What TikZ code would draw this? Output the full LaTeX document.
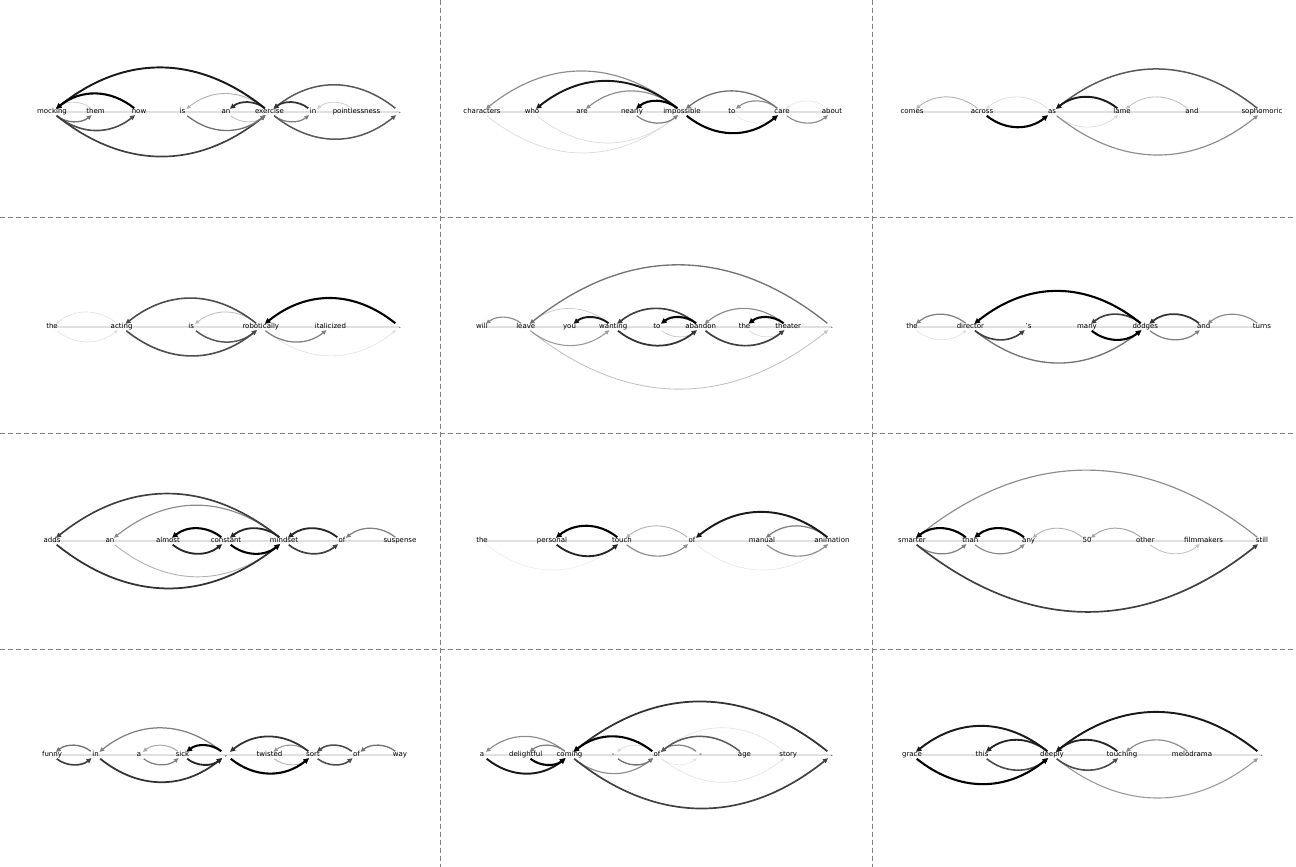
\documentclass[tikz,border=0pt]{standalone}
\usepackage{fontspec}
\setmainfont{DejaVu Sans}
\usepackage{tikz}
\usetikzlibrary{arrows.meta,backgrounds}

\begin{document}
\begin{tikzpicture}[x=1pt, y=-1pt,
    word/.style={font=\fontsize{7}{8}\selectfont, inner sep=1pt, text height=5.2pt, text depth=1.4pt},
    base/.style={draw=black!12, line width=1.2pt},
    att/.style={draw=black!#1, line width={0.4pt+0.017pt*#1},
      -{Triangle[length=3pt 1.3, width=2.6pt 1.3]},
      bend right=38.66, looseness=1.09, shorten <=6pt, shorten >=5pt},
    sep/.style={draw=black!50, dash pattern=on 5pt off 3pt, line width=0.8pt}]
    \useasboundingbox (0,0) rectangle (1296,867);

    % Panel separators
    \draw[sep] (440,0) -- (440,867);
    \draw[sep] (872,0) -- (872,867);
    \draw[sep] (0,217) -- (1296,217);
    \draw[sep] (0,433) -- (1296,433);
    \draw[sep] (0,649) -- (1296,649);

    % Row 1
    \foreach \w [count=\i] in {mocking,them,now,is,an,exercise,in,pointlessness,.}
        \node[word] (a\i) at ({52+(\i-1)*43.5},112) {\w};
    \foreach \src/\dst/\wt in {2/1/20, 6/4/30, 8/7/20, 5/6/25, 1/2/55, 1/3/70, 1/6/75, 4/6/55,
        6/7/50, 6/9/65, 9/6/65, 6/5/80, 7/6/80, 6/1/90, 3/1/100}
        \draw[att=\wt] (a\src.center) to (a\dst.center);

    \foreach \w [count=\i] in {characters,who,are,nearly,impossible,to,care,about}
        \node[word] (b\i) at ({482+(\i-1)*50},112) {\w};
    \foreach \src/\dst/\wt in {1/5/15, 2/5/15, 6/7/10, 8/7/10, 5/1/45, 5/3/45, 7/6/45, 7/8/45,
        4/5/50, 7/5/55, 5/2/90, 5/4/100, 5/7/100}
        \draw[att=\wt] (b\src.center) to (b\dst.center);

    \foreach \w [count=\i] in {comes,across,as,lame,and,sophomoric}
        \node[word] (c\i) at ({912+(\i-1)*70},112) {\w};
    \foreach \src/\dst/\wt in {3/2/15, 3/4/15, 5/4/25, 2/1/30, 3/6/45, 6/3/65, 4/3/90, 2/3/100}
        \draw[att=\wt] (c\src.center) to (c\dst.center);

    % Row 2
    \foreach \w [count=\i] in {the,acting,is,robotically,italicized,.}
        \node[word] (d\i) at ({52+(\i-1)*69.6},327) {\w};
    \foreach \src/\dst/\wt in {2/1/12, 1/2/12, 4/6/12, 4/3/25, 4/5/50, 3/4/65, 2/4/70, 4/2/70, 6/4/100}
        \draw[att=\wt] (d\src.center) to (d\dst.center);

    \foreach \w [count=\i] in {will,leave,you,wanting,to,abandon,the,theater,.}
        \node[word] (e\i) at ({482+(\i-1)*43.75},327) {\w};
    \foreach \src/\dst/\wt in {7/8/15, 4/2/20, 5/6/20, 2/9/25, 2/4/40, 2/1/45, 8/6/45, 9/2/55,
        6/4/75, 6/8/75, 4/6/80, 4/3/90, 6/5/100, 8/7/100}
        \draw[att=\wt] (e\src.center) to (e\dst.center);

    \foreach \w [count=\i] in {the,director,'s,many,dodges,and,turns}
        \node[word] (f\i) at ({912+(\i-1)*58.33},327) {\w};
    \foreach \src/\dst/\wt in {1/2/12, 7/6/45, 2/1/50, 5/6/50, 2/5/55, 5/4/75, 2/3/75, 6/5/80,
        5/2/100, 4/5/100}
        \draw[att=\wt] (f\src.center) to (f\dst.center);

    % Row 3
    \foreach \w [count=\i] in {adds,an,almost,constant,mindset,of,suspense}
        \node[word] (g\i) at ({52+(\i-1)*58},541) {\w};
    \foreach \src/\dst/\wt in {2/5/30, 5/2/45, 7/6/50, 5/1/75, 5/6/75, 1/5/80, 3/4/85, 5/4/85,
        6/5/85, 4/3/100, 4/5/100}
        \draw[att=\wt] (g\src.center) to (g\dst.center);

    \foreach \w [count=\i] in {the,personal,touch,of,manual,animation}
        \node[word] (h\i) at ({482+(\i-1)*70},541) {\w};
    \foreach \src/\dst/\wt in {1/3/8, 4/6/10, 4/3/30, 3/4/45, 5/6/45, 6/5/50, 2/3/85, 6/4/90, 3/2/100}
        \draw[att=\wt] (h\src.center) to (h\dst.center);

    \foreach \w [count=\i] in {smarter,than,any,50,other,filmmakers,still}
        \node[word] (i\i) at ({912+(\i-1)*58.33},541) {\w};
    \foreach \src/\dst/\wt in {5/6/25, 4/3/30, 5/4/35, 7/1/45, 2/3/45, 1/2/50, 1/7/75, 2/1/100, 3/2/100}
        \draw[att=\wt] (i\src.center) to (i\dst.center);

    % Row 4
    \foreach \w [count=\i] in {funny,in,a,sick,{,},twisted,sort,of,way}
        \node[word] (j\i) at ({52+(\i-1)*43.5},755) {\w};
    \foreach \src/\dst/\wt in {6/7/30, 4/3/35, 7/6/40, 5/2/50, 3/4/50, 2/1/55, 9/8/55, 8/7/70,
        7/8/70, 1/2/75, 7/5/80, 2/5/80, 4/5/85, 5/4/100, 5/7/100}
        \draw[att=\wt] (j\src.center) to (j\dst.center);

    \foreach \w [count=\i] in {a,delightful,coming,-,of,-,age,story,.}
        \node[word] (k\i) at ({482+(\i-1)*43.75},755) {\w};
    \foreach \src/\dst/\wt in {5/6/10, 8/5/12, 5/8/12, 5/4/15, 3/1/45, 3/5/45, 3/2/50, 6/5/50,
        4/5/55, 7/5/65, 3/9/75, 9/3/80, 1/3/90, 5/3/100, 2/3/100}
        \draw[att=\wt] (k\src.center) to (k\dst.center);

    \foreach \w [count=\i] in {grace,this,deeply,touching,melodrama,.}
        \node[word] (l\i) at ({912+(\i-1)*70},755) {\w};
    \foreach \src/\dst/\wt in {3/6/40, 5/4/45, 2/3/70, 3/4/70, 3/2/85, 4/3/85, 3/1/90, 6/3/90, 1/3/100}
        \draw[att=\wt] (l\src.center) to (l\dst.center);

    % Sentence lines
    \begin{scope}[on background layer]
        \draw[base] (a1.center) -- (a9.center);
        \draw[base] (b1.center) -- (b8.center);
        \draw[base] (c1.center) -- (c6.center);
        \draw[base] (d1.center) -- (d6.center);
        \draw[base] (e1.center) -- (e9.center);
        \draw[base] (f1.center) -- (f7.center);
        \draw[base] (g1.center) -- (g7.center);
        \draw[base] (h1.center) -- (h6.center);
        \draw[base] (i1.center) -- (i7.center);
        \draw[base] (j1.center) -- (j9.center);
        \draw[base] (k1.center) -- (k9.center);
        \draw[base] (l1.center) -- (l6.center);
    \end{scope}
\end{tikzpicture}
\end{document}
